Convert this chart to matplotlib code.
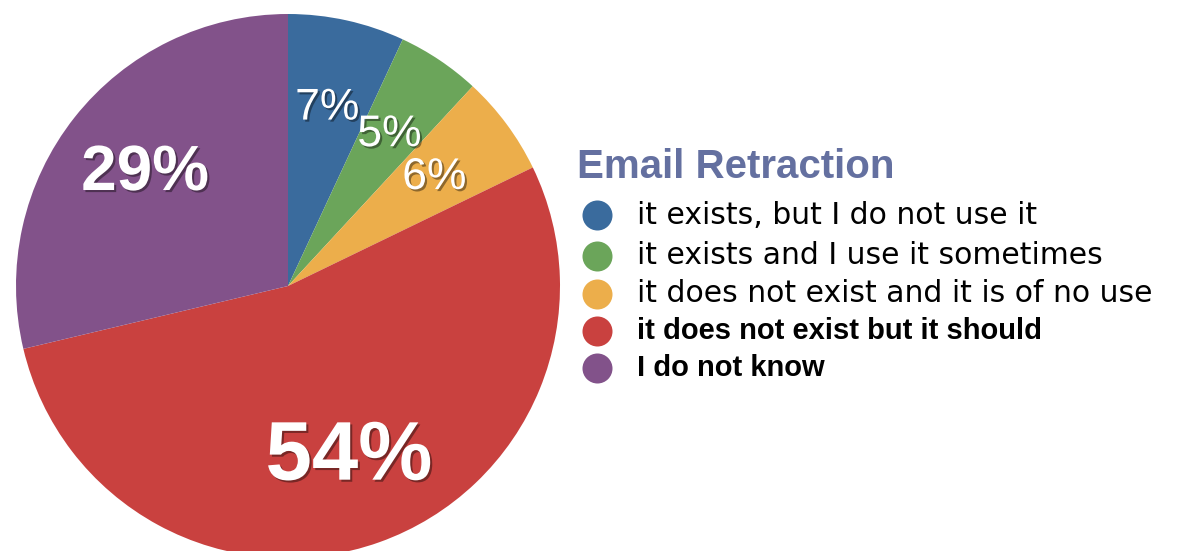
import matplotlib
matplotlib.use("Agg")
import matplotlib.pyplot as plt
import matplotlib.patheffects as pe

# data
categories = ["it exists, but I do not use it",
              "it exists and I use it sometimes",
              "it does not exist and it is of no use",
              "it does not exist but it should",
              "I do not know"]
values = [7, 5, 6, 54, 29]
colors = ["#3a6b9d", "#6ba55a", "#ecae4b", "#c9413f", "#82528a"]
bold_items = [False, False, False, True, True]
label_sizes = [32, 32, 32, 60, 46]
title = "Email Retraction"

W, H = 1187, 551
fig = plt.figure(figsize=(W / 100, H / 100), dpi=100)
ax = fig.add_axes([0, 0, 1, 1])

wedges, texts = ax.pie(values, colors=colors, labels=[f"{v}%" for v in values],
                       startangle=90, counterclock=False,
                       center=(288, H - 286), radius=272,
                       labeldistance=0.67, frame=True,
                       wedgeprops=dict(linewidth=0))
ax.set_xlim(0, W)
ax.set_ylim(0, H)
ax.axis("off")

shadow = [pe.SimplePatchShadow(offset=(1.5, -1.5), shadow_rgbFace="black", alpha=0.4),
          pe.Normal()]
for t, s in zip(texts, label_sizes):
    t.set_fontsize(s)
    t.set_color("white")
    t.set_family("Liberation Sans")
    t.set_ha("center")
    t.set_va("center")
    t.set_fontweight("bold" if s > 40 else "normal")
    t.set_path_effects(shadow)

# legend
ax.text(577, H - 178, title, fontsize=29, fontweight="bold", color="#6470a0",
        family="Liberation Sans", va="baseline", ha="left")
row_y = [215, 256, 294, 331, 368]
for cat, col, b, y in zip(categories, colors, bold_items, row_y):
    ax.scatter([597], [H - y], s=467, color=col, linewidths=0, zorder=3)
    if b:
        ax.text(637, H - y, cat, fontsize=21, fontweight="bold",
                family="Liberation Sans", va="center", ha="left", color="black")
    else:
        ax.text(637, H - y, cat, fontsize=21.5,
                family="DejaVu Sans", va="center", ha="left", color="black")

fig.savefig("out.png", dpi=100)
